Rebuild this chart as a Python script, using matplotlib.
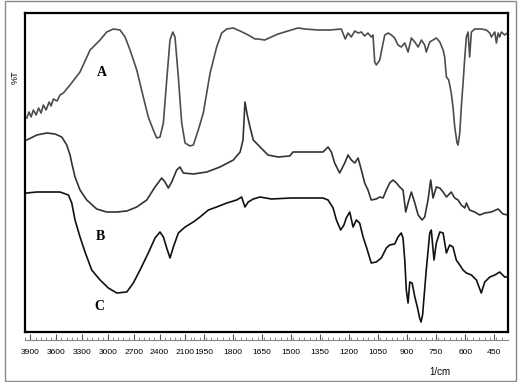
import numpy as np
import matplotlib
matplotlib.use("Agg")
import matplotlib.pyplot as plt
from matplotlib.ticker import FixedLocator, FixedFormatter
from matplotlib.patches import Rectangle

# wavenumbers (1/cm) and transmittance (arbitrary, stacked)
wn_a = [3942, 3916, 3892, 3866, 3834, 3805, 3776, 3750, 3718, 3683, 3660, 3634, 3591, 3556,
        3517, 3440, 3324, 3207, 3091, 3014, 2937, 2859, 2801, 2743, 2665, 2589, 2531, 2473,
        2433, 2395, 2356, 2317, 2279, 2247, 2221, 2182, 2143, 2104, 2046, 2008, 1978, 1952,
        1917, 1883, 1857, 1831, 1797, 1762, 1720, 1685, 1670, 1635, 1601, 1566, 1532, 1498,
        1463, 1428, 1360, 1299, 1240, 1219, 1205, 1188, 1170, 1153, 1136, 1119, 1102, 1085,
        1076, 1067, 1059, 1041, 1024, 1015, 998, 981, 964, 947, 930, 912, 895, 878, 860, 843,
        826, 809, 801, 783, 766, 749, 731, 714, 706, 697, 685, 672, 663, 654, 642, 637, 628,
        620, 611, 602, 594, 585, 577, 568, 551, 517, 491, 473, 465, 447, 439, 430, 422, 413,
        396, 382]
t_a = [214, 220, 215, 222, 217, 224, 219, 227, 222, 230, 226, 233, 231, 237,
       239, 247, 260, 282, 292, 300, 303, 302, 295, 282, 262, 235, 215, 202,
       194, 195, 209, 252, 292, 300, 295, 255, 209, 189, 186, 187, 202, 219,
       259, 285, 299, 303, 304, 301, 297, 293, 293, 292, 295, 298, 300, 302,
       304, 303, 302, 302, 303, 293, 299, 295, 301, 299, 300, 296, 299, 295,
       297, 270, 267, 272, 289, 297, 299, 297, 294, 287, 285, 289, 280, 294, 290, 285,
       292, 287, 280, 290, 292, 294, 290, 282, 275, 255, 252, 239, 225, 205, 189, 187, 199,
       225, 249, 275, 295, 300, 275, 300, 303, 303, 302, 299, 295, 300, 289, 299, 295, 300,
       297, 299]

wn_b = [3942, 3826, 3710, 3614, 3536, 3478, 3440, 3420, 3382, 3324, 3246, 3130, 3014, 2897,
        2781, 2665, 2549, 2453, 2375, 2337, 2298, 2259, 2201, 2163, 2124, 2008, 1934, 1866,
        1797, 1762, 1747, 1737, 1725, 1711, 1694, 1659, 1618, 1566, 1506, 1489, 1411, 1334,
        1308, 1291, 1274, 1248, 1222, 1205, 1188, 1170, 1153, 1136, 1119, 1102, 1085, 1059,
        1041, 1024, 1007, 990, 973, 955, 938, 921, 907, 895, 878, 860, 843, 823, 809, 792,
        778, 766, 749, 731, 714, 697, 672, 654, 637, 620, 602, 594, 577, 551, 525, 499, 465,
        430, 405, 379]
t_b = [192, 197, 199, 198, 195, 187, 177, 169, 155, 142, 132, 123, 120, 120,
       121, 125, 132, 145, 154, 150, 144, 150, 162, 165, 159, 158, 160, 165,
       172, 180, 192, 230, 217, 205, 192, 185, 177, 175, 176, 180, 180, 180,
       185, 180, 169, 159, 169, 177, 172, 169, 174, 162, 149, 142, 132, 133,
       135, 134, 142, 149, 152, 149, 145, 142, 120, 129, 140, 129, 117, 112, 115, 132,
       152, 134, 145, 144, 140, 135, 140, 134, 132, 127, 124, 129, 122, 120, 117, 119, 120,
       123, 118, 117]

wn_c = [3942, 3826, 3710, 3556, 3459, 3420, 3382, 3324, 3266, 3188, 3091, 2995, 2897, 2781,
        2705, 2627, 2531, 2453, 2395, 2356, 2317, 2279, 2240, 2182, 2104, 2008, 1969, 1926,
        1883, 1831, 1780, 1754, 1737, 1720, 1694, 1659, 1601, 1498, 1334, 1308, 1282, 1265,
        1243, 1226, 1214, 1196, 1179, 1162, 1145, 1127, 1110, 1085, 1059, 1033, 1007, 990,
        964, 947, 930, 921, 912, 904, 895, 886, 874, 860, 847, 835, 828, 820, 801, 783, 775,
        761, 749, 731, 714, 697, 680, 663, 646, 628, 611, 594, 568, 542, 517, 499, 473, 447,
        422, 396, 379]
t_c = [139, 140, 140, 140, 137, 129, 112, 95, 80, 62, 52, 44, 39, 40,
       49, 62, 79, 94, 100, 95, 84, 74, 85, 99, 105, 110, 115, 122,
       125, 129, 132, 135, 125, 130, 133, 135, 133, 134, 134, 132, 124, 112,
       102, 107, 114, 120, 105, 112, 109, 95, 85, 69, 70, 74, 84, 87,
       88, 95, 99, 94, 72, 42, 29, 50, 49, 35, 25, 14, 10, 17, 62, 99, 102,
       72, 89, 100, 99, 79, 87, 85, 72, 67, 62, 59, 57, 52, 39, 50, 55, 57,
       60, 55, 55]

major_ticks = [3900, 3600, 3300, 3000, 2700, 2400, 2100, 1950, 1800, 1650, 1500, 1350,
               1200, 1050, 900, 750, 600, 450]

BREAK = 2000
K = 0.4445  # above 2000 1/cm the axis is compressed


def fwd(w):
    w = np.asarray(w, dtype=float)
    return np.where(w >= BREAK, BREAK + (w - BREAK) * K, w)


def inv(u):
    u = np.asarray(u, dtype=float)
    return np.where(u >= BREAK, BREAK + (u - BREAK) / K, u)


fig = plt.figure(figsize=(5.18, 3.82), dpi=100)
ax = fig.add_axes([25 / 518, 50 / 382, 483 / 518, 319 / 382])
ax.set_xscale('function', functions=(fwd, inv))

ax.plot(wn_a, t_a, color='#4d4d4d', lw=1.2)
ax.plot(wn_b, t_b, color='#333333', lw=1.2)
ax.plot(wn_c, t_c, color='#111111', lw=1.2)

ax.set_xlim(3963, 379)
ax.set_ylim(0, 319)
ax.set_yticks([])

# black frame, ruler axis offset below it
for s in ['top', 'left', 'right']:
    ax.spines[s].set_linewidth(1.6)
ax.axhline(0, color='black', lw=1.6, clip_on=False)
ax.spines['bottom'].set_position(('outward', 6))
ax.spines['bottom'].set_color('#888888')
ax.spines['bottom'].set_linewidth(0.8)

minor = list(np.arange(3960, 2000, -60)) + list(np.arange(2000, 380, -30))
ax.xaxis.set_major_locator(FixedLocator(major_ticks))
ax.xaxis.set_major_formatter(FixedFormatter([str(t) for t in major_ticks]))
ax.xaxis.set_minor_locator(FixedLocator(minor))
ax.tick_params(axis='x', which='major', direction='in', length=4, width=0.8,
               color='#555555', pad=6, labelsize=6.1)
ax.tick_params(axis='x', which='minor', direction='in', length=2, width=0.6,
               color='#777777')
for lab in ax.get_xticklabels():
    lab.set_family(['Liberation Sans', 'DejaVu Sans'])

fig.text(15 / 518, 1 - 77 / 382, '%T', rotation=90, fontsize=6.5,
         ha='center', va='center', family=['Liberation Sans', 'DejaVu Sans'])
fig.text(440 / 518, 1 - 372 / 382, '1/cm', fontsize=7, ha='center', va='center',
         family=['Liberation Sans', 'DejaVu Sans'])

for name, x, y in [('A', 102, 72), ('B', 100, 237), ('C', 99, 307)]:
    fig.text(x / 518, 1 - y / 382, name, fontsize=10, fontweight='bold',
             ha='center', va='center', family=['Liberation Serif', 'DejaVu Serif'])

fig.patches.append(Rectangle((5 / 518, 1 / 382), 511 / 518, 380 / 382,
                             transform=fig.transFigure, fill=False,
                             edgecolor='#8a8a8a', lw=1))

fig.savefig('out.png', dpi=100)
